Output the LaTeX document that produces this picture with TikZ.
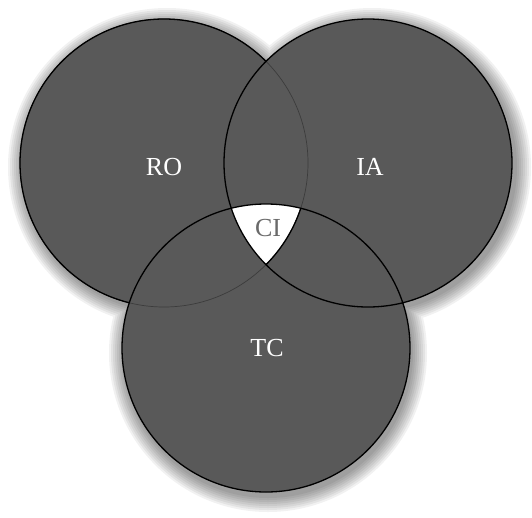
\documentclass[tikz,border=0pt]{standalone}
\usepackage{fontspec}
\setmainfont{Liberation Serif}
\definecolor{discfill}{HTML}{595959}
\definecolor{faintline}{HTML}{3C3C3C}
\definecolor{citext}{HTML}{6A6A6A}
\begin{document}
\begin{tikzpicture}[x=1pt,y=-1pt,
  lbl/.style={text=white,font=\fontsize{26}{28}\selectfont,inner sep=0pt},
  outline/.style={draw=black,line width=1.3pt}]
\useasboundingbox (0,0) rectangle (532,517);
\fill[white] (0,0) rectangle (532,517);
\def\R{144}
\coordinate (ro) at (164,163);
\coordinate (ia) at (368,163);
\coordinate (tc) at (266,348);
% halo / shadow
\foreach \d in {15,13,...,1}{
  \fill[black,opacity=0.055] ([shift={(3,4)}]ro) circle (\R+\d) ([shift={(4,4)}]ia) circle (\R+\d) ([shift={(2,5)}]tc) circle (\R+\d);
}
% discs
\fill[discfill] (ro) circle (\R) (ia) circle (\R) (tc) circle (\R);
% central white region
\begin{scope}
  \clip (ro) circle (\R);
  \clip (ia) circle (\R);
  \fill[white] (tc) circle (\R);
\end{scope}
% hidden parts of RO outline (faint)
\draw[faintline,line width=0.7pt] (ro) circle (\R);
% visible RO outline
\begin{scope}[even odd rule]
  \clip (-10,-10) rectangle (542,527) (ia) circle (\R) (tc) circle (\R);
  \draw[outline] (ro) circle (\R);
\end{scope}
\draw[outline] (ia) circle (\R);
\draw[outline] (tc) circle (\R);
% labels
\node[lbl] (lro) at (164,167) {RO};
\node[lbl] (lia) at (370,167) {IA};
\node[lbl] (ltc) at (267,348) {TC};
\node[lbl,text=citext] (lci) at (268,228) {CI};
\end{tikzpicture}
\end{document}
